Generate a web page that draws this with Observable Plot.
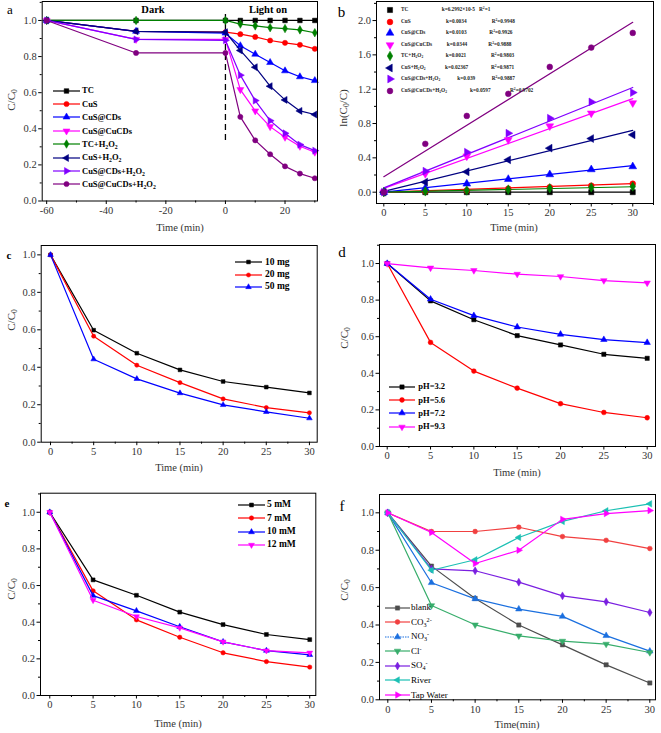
<!DOCTYPE html>
<html><head><meta charset="utf-8">
<script src="https://cdn.jsdelivr.net/npm/d3@7"></script>
<script src="https://cdn.jsdelivr.net/npm/@observablehq/plot@0.6"></script>
<style>
body{margin:0;background:#fff;}
#fig{position:relative;width:661px;height:733px;overflow:hidden;background:#fff;font-family:"Liberation Serif","Times New Roman",serif;color:#000;}
.abs{position:absolute;white-space:nowrap;line-height:1;}
sub{font-size:0.68em;vertical-align:-0.28em;line-height:0;}
sup{font-size:0.68em;vertical-align:0.55em;line-height:0;}
.row{position:absolute;display:flex;align-items:center;white-space:nowrap;line-height:1;}
</style></head><body><div id="fig"></div>
<script>
// ---------------- DATA ----------------
// (a) C/C0 vs time, dark adsorption then light
const timeA = [-60, -30, 0, 5, 10, 15, 20, 25, 30];
const seriesA = ["TC", "CuS", "CuS@CDs", "CuS@CuCDs", "TC+H2O2", "CuS+H2O2", "CuS@CDs+H2O2", "CuS@CuCDs+H2O2"];
const aTC            = [1, 1, 1, 1, 1, 1, 1, 1, 1];
const aCuS           = [1, 0.94, 0.935, 0.924, 0.909, 0.889, 0.876, 0.865, 0.843];
const aCuSCDs        = [1, 0.94, 0.93, 0.86, 0.813, 0.767, 0.721, 0.688, 0.667];
const aCuSCuCDs      = [1, 0.895, 0.895, 0.617, 0.499, 0.412, 0.353, 0.303, 0.27];
const aTCH2O2        = [1, 1, 1, 0.98, 0.97, 0.96, 0.955, 0.948, 0.932];
const aCuSH2O2       = [1, 0.94, 0.935, 0.834, 0.741, 0.636, 0.56, 0.499, 0.479];
const aCuSCDsH2O2    = [1, 0.895, 0.89, 0.697, 0.556, 0.445, 0.375, 0.312, 0.279];
const aCuSCuCDsH2O2  = [1, 0.82, 0.82, 0.466, 0.336, 0.259, 0.192, 0.152, 0.126];
const lightOnAt = [0];
const darkMarkerSpan = [0.335, 1.055];

// (b) ln(C0/C) kinetics
const timeB = [0, 5, 10, 15, 20, 25, 30];
const bTC            = [0, 0, 0, 0, 0, 0, 0];
const bCuS           = [0, 0.01, 0.02, 0.04, 0.058, 0.075, 0.098];
const bCuSCDs        = [0, 0.047, 0.097, 0.151, 0.206, 0.264, 0.299];
const bCuSCuCDs      = [0, 0.214, 0.42, 0.61, 0.77, 0.92, 1.04];
const bTCH2O2        = [0, 0.01, 0.02, 0.03, 0.045, 0.055, 0.066];
const bCuSH2O2       = [0, 0.117, 0.237, 0.377, 0.513, 0.625, 0.668];
const bCuSCDsH2O2    = [0, 0.245, 0.466, 0.687, 0.862, 1.052, 1.161];
const bCuSCuCDsH2O2  = [0, 0.563, 0.889, 1.146, 1.46, 1.685, 1.856];
const fitTimes = [0, 30];
const fitStart = [0, 0, 0, 0.045, 0, 0.01, 0.05, 0.18];
const fitEnd   = [0, 0.1, 0.31, 1.09, 0.063, 0.72, 1.22, 1.98];
const kLabels  = ["k=6.2992×10-5", "k=0.0034", "k=0.0103", "k=0.0344", "k=0.0021", "k=0.02367", "k=0.039", "k=0.0597"];
const r2Labels = ["R²=1", "R²=0.9948", "R²=0.9926", "R²=0.9888", "R²=0.9803", "R²=0.9871", "R²=0.9887", "R²=0.9702"];

// (c) catalyst dosage
const timeC = [0, 5, 10, 15, 20, 25, 30];
const seriesC = ["10 mg", "20 mg", "50 mg"];
const c10 = [1, 0.598, 0.475, 0.386, 0.324, 0.294, 0.263];
const c20 = [1, 0.566, 0.411, 0.318, 0.231, 0.185, 0.157];
const c50 = [1, 0.443, 0.338, 0.262, 0.199, 0.162, 0.128];

// (d) pH
const seriesD = ["pH=3.2", "pH=5.6", "pH=7.2", "pH=9.3"];
const d32 = [1, 0.796, 0.693, 0.606, 0.555, 0.504, 0.482];
const d56 = [1, 0.569, 0.412, 0.319, 0.234, 0.186, 0.157];
const d72 = [1, 0.805, 0.715, 0.653, 0.613, 0.584, 0.568];
const d93 = [1, 0.976, 0.962, 0.942, 0.929, 0.907, 0.894];

// (e) H2O2 concentration
const seriesE = ["5 mM", "7 mM", "10 mM", "12 mM"];
const e5  = [1, 0.631, 0.547, 0.455, 0.387, 0.333, 0.305];
const e7  = [1, 0.571, 0.413, 0.318, 0.233, 0.185, 0.155];
const e10 = [1, 0.545, 0.462, 0.375, 0.293, 0.245, 0.222];
const e12 = [1, 0.52, 0.431, 0.369, 0.293, 0.245, 0.233];

// (f) coexisting ions / real water
const seriesF = ["blank", "CO32-", "NO3-", "Cl-", "SO4-", "River", "Tap Water"];
const fBlank = [1, 0.715, 0.542, 0.4, 0.294, 0.187, 0.09];
const fCO3   = [1, 0.9, 0.9, 0.923, 0.873, 0.853, 0.809];
const fNO3   = [1, 0.626, 0.54, 0.485, 0.446, 0.343, 0.26];
const fCl    = [1, 0.504, 0.401, 0.342, 0.314, 0.298, 0.253];
const fSO4   = [1, 0.7, 0.69, 0.629, 0.556, 0.524, 0.467];
const fRiver = [1, 0.693, 0.749, 0.868, 0.954, 1.011, 1.048];
const fTap   = [1, 0.895, 0.729, 0.8, 0.965, 0.996, 1.012];

// ---------------- STYLE ----------------
const F = '"Liberation Serif","Times New Roman",serif';
const S3 = Math.sqrt(3);
const SYM = {
  square: d3.symbolSquare,
  circle: d3.symbolCircle,
  triUp: d3.symbolTriangle,
  diamond: d3.symbolDiamond,
  triDown: {draw(c, s){const y=-Math.sqrt(s/(S3*3)); c.moveTo(0,-2*y); c.lineTo(S3*y,y); c.lineTo(-S3*y,y); c.closePath();}},
  triLeft: {draw(c, s){const y=-Math.sqrt(s/(S3*3)); c.moveTo(2*y,0); c.lineTo(-y,-S3*y); c.lineTo(-y,S3*y); c.closePath();}},
  triRight:{draw(c, s){const y=-Math.sqrt(s/(S3*3)); c.moveTo(-2*y,0); c.lineTo(y,S3*y); c.lineTo(y,-S3*y); c.closePath();}}
};
const colA = ["#000000", "#ff0000", "#0000ff", "#ff00ff", "#008000", "#000080", "#8000ff", "#800080"];
const symA = [SYM.square, SYM.circle, SYM.triUp, SYM.triDown, SYM.diamond, SYM.triLeft, SYM.triRight, SYM.circle];
const colF = ["#4d4d4d", "#f14040", "#1a6fdf", "#37ad6b", "#7a1fe0", "#1cc0b4", "#ff00ff"];
const symF = [SYM.square, SYM.circle, SYM.triUp, SYM.triDown, SYM.diamond, SYM.triLeft, SYM.triRight];

const fig = document.getElementById("fig");

function chem(s){
  s = s.replace(/H2O2/g, "H<sub>2</sub>O<sub>2</sub>");
  const m = s.match(/^([A-Za-z]+?)(\d?)(\d?-)$/);
  if (m) s = m[1] + (m[2] ? "<sub>"+m[2]+"</sub>" : "") + "<sup>"+m[3]+"</sup>";
  return s;
}
function pts(xs, ys){ return xs.map((x,i)=>({x, y: ys[i]})); }
function series(xs, ys, color, symbol, r, sw){
  const d = pts(xs, ys);
  return [
    Plot.line(d, {x:"x", y:"y", stroke:color, strokeWidth:sw||1.2}),
    Plot.dot(d, {x:"x", y:"y", symbol, fill:color, stroke:color, strokeWidth:0.5, r})
  ];
}
function range(a, b, s){ const out=[]; for(let v=a; v<=b+1e-9; v+=s) out.push(+v.toFixed(4)); return out; }

function panel(o){
  const inX = v => v >= o.xDomain[0]-1e-9 && v <= o.xDomain[1]+1e-9;
  const inY = v => v >= o.yDomain[0]-1e-9 && v <= o.yDomain[1]+1e-9;
  const p = Plot.plot({
    width: o.W, height: o.H,
    marginLeft: o.fl - o.left, marginRight: o.left + o.W - o.fr,
    marginTop: o.ft - o.top, marginBottom: o.top + o.H - o.fb,
    x: {domain: o.xDomain}, y: {domain: o.yDomain},
    style: {fontFamily: F, fontSize: "10.5px", background: "transparent", overflow: "visible"},
    marks: [
      ...o.marks,
      Plot.frame({stroke: "#000", strokeWidth: 1}),
      Plot.axisX(o.xMinor.filter(inX), {tickSize: 2, tickFormat: () => "", label: null, stroke: "#000"}),
      Plot.axisX(o.xMajor.filter(inX), {tickSize: 3.5, tickPadding: 2, tickFormat: d => String(d), label: null, stroke: "#000", fill: "#333"}),
      Plot.axisY(o.yMinor.filter(inY), {tickSize: 2, tickFormat: () => "", label: null, stroke: "#000"}),
      Plot.axisY(o.yMajor.filter(inY), {tickSize: 3.5, tickPadding: 2, tickFormat: d3.format(".1f"), label: null, stroke: "#000", fill: "#333"})
    ]
  });
  p.style.position = "absolute";
  p.style.left = o.left + "px";
  p.style.top = o.top + "px";
  fig.appendChild(p);
  return p;
}

function text(html, x, y, css, anchor){
  const d = document.createElement("div");
  d.className = "abs";
  d.innerHTML = html;
  d.style.left = x + "px"; d.style.top = y + "px";
  d.style.transform = anchor || "translate(-50%,-50%)";
  Object.assign(d.style, css || {});
  fig.appendChild(d);
  return d;
}
function ytitle(html, x, y){
  text(html, x, y, {fontSize: "11px", color: "#333"}, "translate(-50%,-50%) rotate(-90deg)");
}
function markerSvg(w, color, symbol, r, withLine, dash){
  const h = 10;
  const path = d3.symbol(symbol, Math.PI*r*r)();
  return `<svg width="${w}" height="${h}" style="display:block;overflow:visible">` +
    (withLine ? `<line x1="0" x2="${w}" y1="${h/2}" y2="${h/2}" stroke="${color}" stroke-width="1.2"${dash?` stroke-dasharray="${dash}"`:""}/>` : "") +
    `<path d="${path}" transform="translate(${w/2},${h/2})" fill="${color}" stroke="${color}" stroke-width="0.5"/></svg>`;
}
function legend(o){
  o.labels.forEach((lab, i) => {
    const cy = o.y0 + i*o.dy;
    const r = document.createElement("div");
    r.className = "row";
    r.style.left = o.x + "px"; r.style.top = (cy - 6) + "px"; r.style.height = "12px";
    r.style.fontSize = o.fontSize; r.style.fontWeight = o.bold ? "bold" : "normal";
    r.innerHTML = markerSvg(o.lineW, o.colors[i], o.symbols[i], o.r, true, o.dash && o.dash[i]) +
      `<span style="margin-left:${o.gap}px">${chem(lab)}</span>`;
    fig.appendChild(r);
  });
}

const x0to30Major = range(0, 30, 5), x0to30Minor = range(2.5, 32.5, 5);
const yMajor1 = range(0, 1, 0.2), yMinor1 = range(0.1, 1.1, 0.2);

// ---------------- PANEL a ----------------
const aYs = [aTC, aCuS, aCuSCDs, aCuSCuCDs, aTCH2O2, aCuSH2O2, aCuSCDsH2O2, aCuSCuCDsH2O2];
panel({
  left: 0, top: 0, W: 330, H: 240, fl: 41.7, fr: 317, ft: 1, fb: 200.5,
  xDomain: [-61.5, 30.9], yDomain: [0, 1.105],
  xMajor: [-60, -40, -20, 0, 20], xMinor: [-50, -30, -10, 10, 30],
  yMajor: yMajor1, yMinor: yMinor1,
  marks: [
    Plot.ruleX(lightOnAt, {y1: darkMarkerSpan[0], y2: darkMarkerSpan[1], stroke: "#000", strokeWidth: 1.3, strokeDasharray: "6,4"}),
    ...aYs.flatMap((ys, i) => series(timeA, ys, colA[i], symA[i], 2.6))
  ]
});
text("a", 10, 9, {fontSize: "13px"});
text("Dark", 153, 10, {fontSize: "10.5px", fontWeight: "bold"});
text("Light on", 268, 10, {fontSize: "10.5px", fontWeight: "bold"});
ytitle("C/C<sub>0</sub>", 11, 100);
text("Time (min)", 180, 228, {fontSize: "10.5px", color: "#333"});
legend({labels: seriesA, colors: colA, symbols: symA, x: 53, y0: 90.7, dy: 13.37, lineW: 27, gap: 2, r: 2.6, fontSize: "8.5px", bold: true});

// ---------------- PANEL b ----------------
const bYs = [bTC, bCuS, bCuSCDs, bCuSCuCDs, bTCH2O2, bCuSH2O2, bCuSCDsH2O2, bCuSCuCDsH2O2];
panel({
  left: 330, top: 0, W: 331, H: 240, fl: 376, fr: 653, ft: 1, fb: 203,
  xDomain: [-0.88, 32.5], yDomain: [-0.132, 2.222],
  xMajor: x0to30Major, xMinor: x0to30Minor,
  yMajor: range(0, 2, 0.4), yMinor: range(0.2, 2.2, 0.4),
  marks: [
    ...bYs.map((ys, i) => Plot.line(pts(fitTimes, [fitStart[i], fitEnd[i]]), {x: "x", y: "y", stroke: colA[i], strokeWidth: 1.2})),
    ...bYs.map((ys, i) => Plot.dot(pts(timeB, ys), {x: "x", y: "y", symbol: symA[i], fill: colA[i], stroke: colA[i], strokeWidth: 0.5, r: 2.9}))
  ]
});
text("b", 341.5, 12, {fontSize: "15px"});
ytitle("ln(C<sub>0</sub>/C)", 343, 108);
text("Time (min)", 514, 228, {fontSize: "10.5px", color: "#333"});
// legend layout columns (pixel positions of the text columns in each row)
const legBkCol = [441.7, 446, 446, 446.7, 445.7, 445, 457.3, 470];
const legBrCol = [479, 491.7, 489.3, 488.3, 491, 491, 491.7, 510];
seriesA.forEach((name, i) => {
  const cy = 10.3 + i*11.5;
  const base = {position: "absolute", fontSize: "5.3px", fontWeight: "bold", color: "#222"};
  const m = document.createElement("div");
  m.className = "abs";
  m.innerHTML = markerSvg(8, colA[i], symA[i], 2.9, false);
  Object.assign(m.style, {left: "386px", top: (cy - 5) + "px"});
  fig.appendChild(m);
  text(chem(name), 401, cy, base, "translate(0,-50%)");
  text(kLabels[i], legBkCol[i], cy, base, "translate(0,-50%)");
  text(r2Labels[i].replace("²", "<sup>2</sup>"), legBrCol[i], cy, base, "translate(0,-50%)");
});

// ---------------- PANEL c ----------------
const colC = ["#000000", "#ff0000", "#0000ff"];
const symC = [SYM.square, SYM.circle, SYM.triUp];
panel({
  left: 0, top: 230, W: 330, H: 250, fl: 40.7, fr: 316.7, ft: 245, fb: 441.7,
  xDomain: [-1.08, 30.9], yDomain: [0, 1.05],
  xMajor: x0to30Major, xMinor: x0to30Minor, yMajor: yMajor1, yMinor: yMinor1,
  marks: [c10, c20, c50].flatMap((ys, i) => series(timeC, ys, colC[i], symC[i], 2.1))
});
text("c", 9, 255, {fontSize: "11px", fontWeight: "bold"});
ytitle("C/C<sub>0</sub>", 11, 320);
text("Time (min)", 179, 468, {fontSize: "10.5px", color: "#333"});
legend({labels: seriesC, colors: colC, symbols: symC, x: 235, y0: 262.3, dy: 12.35, lineW: 27, gap: 3, r: 2.1, fontSize: "9.5px", bold: true});

// ---------------- PANEL d ----------------
const colD = ["#000000", "#ff0000", "#0000ff", "#ff00ff"];
const symD = [SYM.square, SYM.circle, SYM.triUp, SYM.triDown];
panel({
  left: 330, top: 230, W: 331, H: 250, fl: 379, fr: 655, ft: 244, fb: 446,
  xDomain: [-0.89, 30.96], yDomain: [0, 1.104],
  xMajor: x0to30Major, xMinor: x0to30Minor, yMajor: yMajor1, yMinor: yMinor1,
  marks: [d32, d56, d72, d93].flatMap((ys, i) => series(timeC, ys, colD[i], symD[i], 2.4))
});
text("d", 342, 252, {fontSize: "15px"});
ytitle("C/C<sub>0</sub>", 344, 338);
text("Time (min)", 517, 473, {fontSize: "10.5px", color: "#333"});
legend({labels: seriesD, colors: colD, symbols: symD, x: 389.3, y0: 386.7, dy: 13.33, lineW: 26, gap: 3, r: 2.4, fontSize: "8.5px", bold: true});

// ---------------- PANEL e ----------------
panel({
  left: 0, top: 480, W: 330, H: 253, fl: 40, fr: 315.3, ft: 492.7, fb: 695,
  xDomain: [-1.07, 30.7], yDomain: [0, 1.104],
  xMajor: x0to30Major, xMinor: x0to30Minor, yMajor: yMajor1, yMinor: yMinor1,
  marks: [e5, e7, e10, e12].flatMap((ys, i) => series(timeC, ys, colD[i], symD[i], 2.2))
});
text("e", 7, 503, {fontSize: "11px", fontWeight: "bold"});
ytitle("C/C<sub>0</sub>", 11, 589);
text("Time (min)", 178, 724, {fontSize: "10.5px", color: "#333"});
legend({labels: seriesE, colors: colD, symbols: symD, x: 238, y0: 505, dy: 13.33, lineW: 27, gap: 2, r: 2.2, fontSize: "9.5px", bold: true});

// ---------------- PANEL f ----------------
panel({
  left: 330, top: 480, W: 331, H: 253, fl: 379, fr: 655, ft: 494, fb: 699.3,
  xDomain: [-0.95, 30.65], yDomain: [0, 1.098],
  xMajor: x0to30Major, xMinor: x0to30Minor, yMajor: yMajor1, yMinor: yMinor1,
  marks: [fBlank, fCO3, fNO3, fCl, fSO4, fRiver, fTap].flatMap((ys, i) => series(timeC, ys, colF[i], symF[i], 2.4))
});
text("f", 342, 506, {fontSize: "15px"});
ytitle("C/C<sub>0</sub>", 344, 590);
text("Time(min)", 517, 725, {fontSize: "10.5px", color: "#333"});
legend({labels: seriesF, colors: colF, symbols: symF, x: 385, y0: 607.7, dy: 14.55, lineW: 25, gap: 1, r: 2.4, fontSize: "9px", bold: false, dash: [null, null, "1.5,1", null, null, null, null]});
</script>
</body></html>
